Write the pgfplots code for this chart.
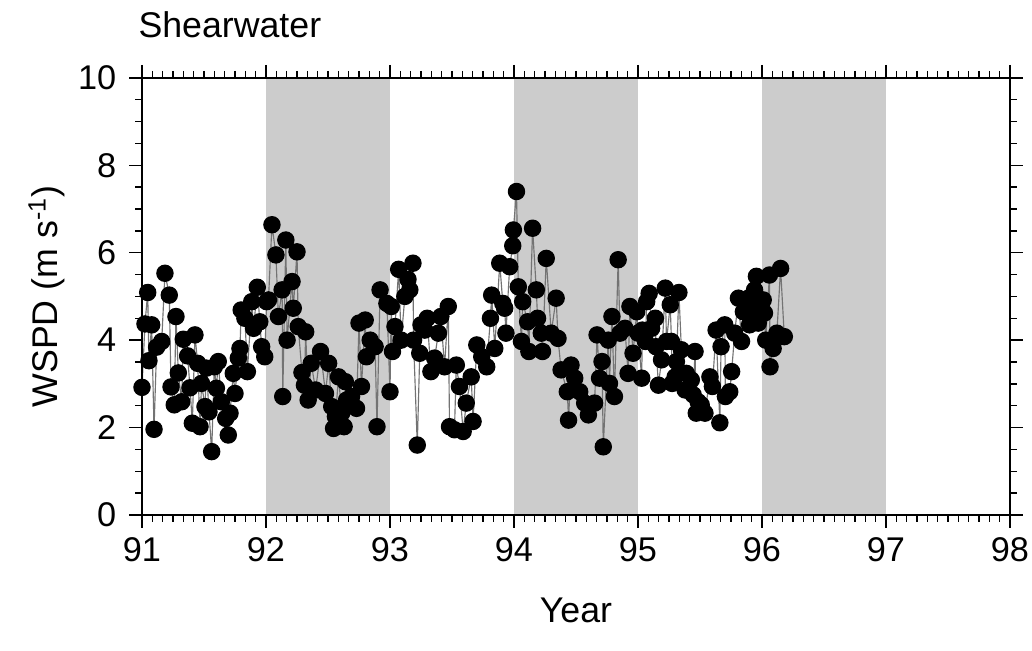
\documentclass[border=0pt]{standalone}
\usepackage{fontspec}
\setmainfont{Liberation Sans}
\usepackage{pgfplots}
\pgfplotsset{compat=1.18}
\usepackage{pgfplotstable}
\pgfplotstableread{
x y
91.000 2.92
91.024 4.37
91.046 5.09
91.056 3.53
91.078 4.35
91.097 1.96
91.118 3.84
91.159 3.97
91.185 5.53
91.220 5.03
91.234 2.93
91.260 2.52
91.274 4.54
91.293 3.25
91.320 2.59
91.333 4.02
91.368 3.64
91.387 2.91
91.406 2.10
91.427 4.12
91.449 3.47
91.468 2.02
91.480 3.01
91.508 2.48
91.520 3.36
91.540 2.36
91.562 1.45
91.583 3.39
91.600 2.90
91.615 3.51
91.640 2.59
91.675 2.21
91.696 1.83
91.710 2.33
91.736 3.24
91.750 2.78
91.777 3.59
91.790 3.81
91.800 4.69
91.830 4.50
91.850 3.28
91.885 4.88
91.900 4.27
91.930 5.21
91.950 4.42
91.965 3.85
91.990 3.62
92.005 4.88
92.020 4.92
92.048 6.64
92.080 5.95
92.100 4.54
92.130 5.15
92.135 2.71
92.160 6.29
92.170 4.00
92.210 5.34
92.220 4.73
92.250 6.02
92.260 4.31
92.290 3.26
92.310 2.97
92.320 4.19
92.340 2.63
92.365 3.47
92.400 2.86
92.440 3.74
92.480 2.78
92.505 3.47
92.530 2.48
92.545 1.98
92.560 2.25
92.585 3.16
92.610 2.33
92.630 2.02
92.640 3.05
92.650 2.63
92.690 2.71
92.730 2.44
92.750 4.39
92.770 2.94
92.800 4.46
92.810 3.62
92.840 4.00
92.880 3.85
92.895 2.02
92.920 5.15
92.975 4.84
93.000 2.82
93.010 4.77
93.020 3.74
93.040 4.31
93.070 5.62
93.090 4.00
93.120 5.00
93.145 5.39
93.160 5.15
93.185 5.76
93.190 4.00
93.220 1.60
93.240 3.70
93.250 4.35
93.280 4.23
93.300 4.50
93.330 3.28
93.360 3.59
93.390 4.16
93.410 4.54
93.440 3.39
93.470 4.77
93.480 2.02
93.520 1.95
93.535 3.43
93.560 2.94
93.590 1.91
93.615 2.56
93.655 3.16
93.670 2.14
93.700 3.89
93.740 3.62
93.780 3.39
93.810 4.50
93.820 5.03
93.845 3.81
93.885 5.76
93.910 4.84
93.925 4.73
93.935 4.16
93.965 5.68
93.990 6.16
93.995 6.52
94.020 7.40
94.035 5.22
94.060 3.97
94.070 4.88
94.110 4.42
94.120 3.74
94.150 6.56
94.180 5.15
94.190 4.50
94.220 4.16
94.230 3.74
94.260 5.87
94.300 4.16
94.340 4.96
94.355 4.04
94.380 3.32
94.430 2.82
94.440 2.17
94.460 3.43
94.490 3.13
94.530 2.82
94.570 2.56
94.600 2.29
94.650 2.56
94.670 4.12
94.690 3.13
94.710 3.51
94.720 1.56
94.760 4.00
94.770 3.01
94.790 4.54
94.810 2.71
94.840 5.84
94.855 4.16
94.895 4.27
94.920 3.24
94.935 4.77
94.960 3.70
94.990 4.65
95.000 4.16
95.030 3.13
95.035 4.23
95.060 3.97
95.070 4.88
95.090 5.07
95.110 4.27
95.140 4.50
95.145 3.85
95.165 2.97
95.190 3.55
95.220 5.19
95.230 3.97
95.260 4.81
95.270 3.97
95.275 3.01
95.300 3.16
95.310 3.51
95.330 5.09
95.350 3.78
95.380 2.86
95.390 3.24
95.430 3.09
95.445 2.75
95.460 3.74
95.470 2.33
95.485 2.59
95.510 2.52
95.540 2.33
95.580 3.16
95.600 2.94
95.630 4.23
95.660 2.11
95.670 3.85
95.700 4.35
95.705 2.71
95.740 2.82
95.755 3.28
95.780 4.16
95.810 4.96
95.835 3.97
95.850 4.65
95.890 4.96
95.900 4.35
95.930 4.65
95.940 5.15
95.955 5.46
95.970 4.39
95.995 4.84
96.010 4.92
96.020 4.62
96.030 4.00
96.060 5.49
96.065 3.39
96.090 3.81
96.120 4.16
96.150 5.64
96.180 4.08
}\wspd
\begin{document}
\begin{tikzpicture}
\begin{axis}[
  at={(0,0)}, anchor=south west,
  width=303.8pt, height=153pt, scale only axis,
  xmin=91, xmax=98, ymin=0, ymax=10,
  xtick={91,92,...,98}, ytick={0,2,...,10},
  minor x tick num=11, minor y tick num=3,
  tick align=outside,
  major tick length=4.5pt, minor tick length=2.4pt,
  axis line style={line width=0.6pt},
  every tick/.style={black, line width=0.5pt},
  tick label style={font=\fontsize{12}{14}\selectfont},
  /pgf/number format/assume math mode=true,
  xlabel={Year}, ylabel={WSPD (m s\textsuperscript{-1})},
  label style={font=\fontsize{12.5}{15}\selectfont},
  xlabel style={at={(axis description cs:0.5,0)}, anchor=base, yshift=-37.5pt},
  ylabel style={at={(axis description cs:0,0.5)}, anchor=base, yshift=29.4pt},
  yticklabel style={xshift=-1pt},
  axis on top,
  clip=false,
]
\addplot[fill=black!20, draw=none, forget plot] coordinates {(92,10) (93,10)} \closedcycle;
\addplot[fill=black!20, draw=none, forget plot] coordinates {(94,10) (95,10)} \closedcycle;
\addplot[fill=black!20, draw=none, forget plot] coordinates {(96,10) (97,10)} \closedcycle;
\addplot[black!55, line width=0.4pt, mark=*, mark size=2.85pt,
  mark options={fill=black, draw=black, solid}] table[x=x,y=y]{\wspd};
\node[anchor=base west, inner sep=0pt, font=\fontsize{12.5}{15}\selectfont, xshift=-1.4pt, yshift=14pt] at (rel axis cs:0,1) {Shearwater};
\end{axis}
\pgfresetboundingbox
\path[use as bounding box] (-49.7pt,-47.25pt) rectangle (311.5pt,180.25pt);
\end{tikzpicture}
\end{document}
